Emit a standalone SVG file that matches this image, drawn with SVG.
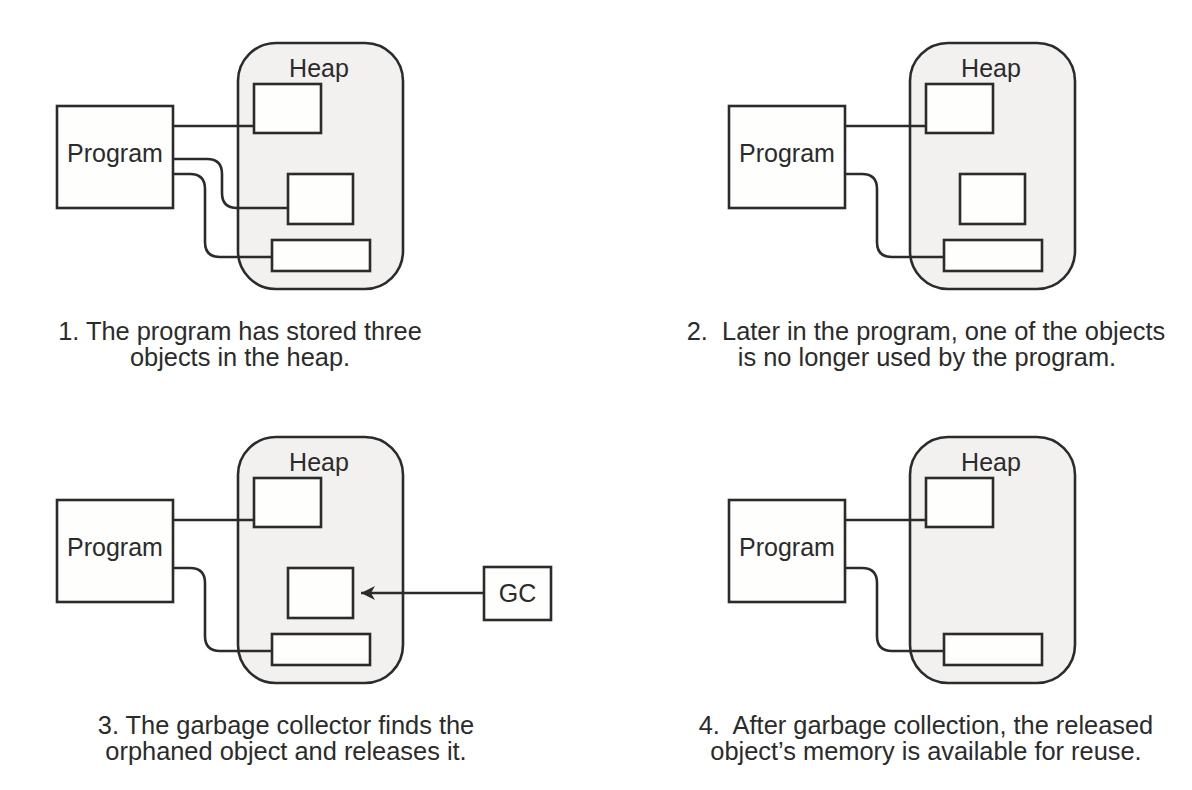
<svg xmlns="http://www.w3.org/2000/svg" width="1192" height="790" viewBox="0 0 1192 790">
<style>
.heap{fill:#f2f1f0;stroke:#2b2b2b;stroke-width:2.6}
.box{fill:#fefefd;stroke:#2b2b2b;stroke-width:2.6}
.ln{fill:none;stroke:#2b2b2b;stroke-width:2.6}
.lbl{font-family:"Liberation Sans",Arial,sans-serif;font-size:25px;fill:#2b2b2b;text-anchor:middle}
.cap{font-family:"Liberation Sans",Arial,sans-serif;font-size:25.4px;fill:#2b2b2b;text-anchor:middle}
</style>
<defs>
<marker id="ah" markerWidth="16" markerHeight="16" refX="15" refY="8" orient="auto" markerUnits="userSpaceOnUse">
<path d="M15,8 L1,1 L5,8 L1,15 Z" fill="#2b2b2b"/>
</marker>
</defs>
<rect width="1192" height="790" fill="#ffffff"/>

<!-- Panel 1 -->
<g id="panel1">
<g id="p1-heap"><rect class="heap" x="238" y="43" width="165" height="246" rx="38"/><text class="lbl" x="319" y="77">Heap</text></g>
<g id="p1-program"><rect class="box" x="57" y="106" width="116" height="102"/><text class="lbl" x="115" y="162">Program</text></g>
<g id="p1-obj1"><rect class="box" x="254" y="84" width="67" height="49"/></g>
<g id="p1-obj2"><rect class="box" x="288" y="174" width="65" height="50"/></g>
<g id="p1-obj3"><rect class="box" x="272" y="240" width="98" height="31"/></g>
<g id="p1-connectors">
<path class="ln" d="M173,126 H254"/>
<path class="ln" d="M173,159 H207 Q222,159 222,174 V193 Q222,208 237,208 H288"/>
<path class="ln" d="M173,174 H190 Q205,174 205,189 V242 Q205,257 220,257 H272"/>
</g>
<text class="cap" x="240" y="340">1. The program has stored three</text>
<text class="cap" x="240" y="366">objects in the heap.</text>
</g>

<!-- Panel 2 -->
<g id="panel2" transform="translate(672,0)">
<g id="p2-heap"><rect class="heap" x="238" y="43" width="165" height="246" rx="38"/><text class="lbl" x="319" y="77">Heap</text></g>
<g id="p2-program"><rect class="box" x="57" y="106" width="116" height="102"/><text class="lbl" x="115" y="162">Program</text></g>
<g id="p2-obj1"><rect class="box" x="254" y="84" width="67" height="49"/></g>
<g id="p2-obj2"><rect class="box" x="288" y="174" width="65" height="50"/></g>
<g id="p2-obj3"><rect class="box" x="272" y="240" width="98" height="31"/></g>
<g id="p2-connectors">
<path class="ln" d="M173,126 H254"/>
<path class="ln" d="M173,174 H190 Q205,174 205,189 V242 Q205,257 220,257 H272"/>
</g>
<text class="cap" x="254" y="340">2.&#160; Later in the program, one of the objects</text>
<text class="cap" x="255" y="366">is no longer used by the program.</text>
</g>

<!-- Panel 3 -->
<g id="panel3" transform="translate(0,394)">
<g id="p3-heap"><rect class="heap" x="238" y="43" width="165" height="246" rx="38"/><text class="lbl" x="319" y="77">Heap</text></g>
<g id="p3-program"><rect class="box" x="57" y="106" width="116" height="102"/><text class="lbl" x="115" y="162">Program</text></g>
<g id="p3-obj1"><rect class="box" x="254" y="84" width="67" height="49"/></g>
<g id="p3-obj2"><rect class="box" x="288" y="174" width="65" height="50"/></g>
<g id="p3-obj3"><rect class="box" x="272" y="240" width="98" height="31"/></g>
<g id="p3-gc"><rect class="box" x="484" y="173" width="67" height="53"/><text class="lbl" x="517.5" y="208">GC</text></g>
<g id="p3-connectors">
<path class="ln" d="M173,126 H254"/>
<path class="ln" d="M173,174 H190 Q205,174 205,189 V242 Q205,257 220,257 H272"/>
<path class="ln" d="M484,199 H361" marker-end="url(#ah)"/>
</g>
<text class="cap" x="286" y="340">3. The garbage collector finds the</text>
<text class="cap" x="286" y="366">orphaned object and releases it.</text>
</g>

<!-- Panel 4 -->
<g id="panel4" transform="translate(672,394)">
<g id="p4-heap"><rect class="heap" x="238" y="43" width="165" height="246" rx="38"/><text class="lbl" x="319" y="77">Heap</text></g>
<g id="p4-program"><rect class="box" x="57" y="106" width="116" height="102"/><text class="lbl" x="115" y="162">Program</text></g>
<g id="p4-obj1"><rect class="box" x="254" y="84" width="67" height="49"/></g>
<g id="p4-obj3"><rect class="box" x="272" y="240" width="98" height="31"/></g>
<g id="p4-connectors">
<path class="ln" d="M173,126 H254"/>
<path class="ln" d="M173,174 H190 Q205,174 205,189 V242 Q205,257 220,257 H272"/>
</g>
<text class="cap" x="254" y="340">4.&#160; After garbage collection, the released</text>
<text class="cap" x="254" y="366">object’s memory is available for reuse.</text>
</g>
</svg>
